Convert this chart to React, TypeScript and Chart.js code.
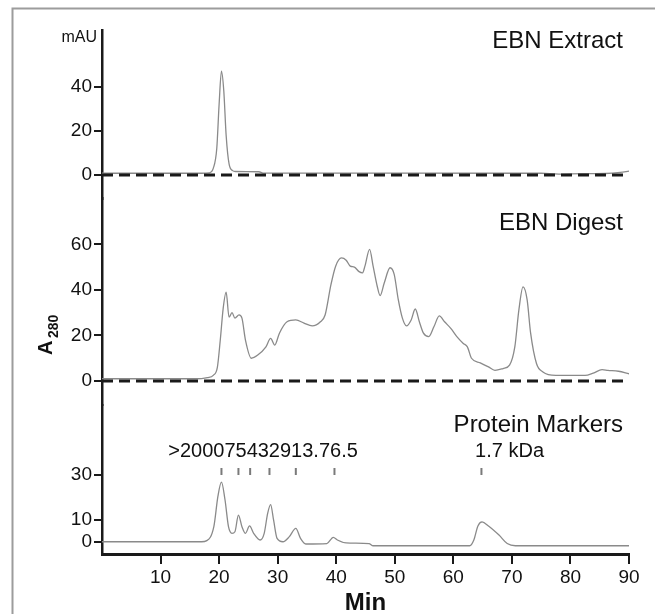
import React, { useEffect, useRef } from "react";
import { Chart, registerables } from "chart.js";

Chart.register(...registerables);

// ---------- data ----------
const extractTime = [0, 10, 17, 18.3, 19.0, 19.6, 20.0, 20.4, 20.8, 21.2, 21.7, 22.3, 22.8, 26.8, 27.5, 50, 75, 78, 82, 86, 88.5, 90];
const extractSignal = [0.8, 0.8, 0.8, 1.0, 3, 12, 32, 47, 38, 18, 5, 2, 1.6, 1.5, 0.9, 0.9, 0.8, 0.4, 0.6, 0.7, 1.2, 1.8];

const digestTime = [0, 5, 10, 15, 17, 18, 19, 19.7, 20.2, 20.7, 21.2, 21.7, 22.2, 22.7, 23.4, 23.9, 24.5, 25.5, 26.6, 28.0, 28.8, 29.5, 30.3, 31.6, 33.1, 34.5, 35.9, 37.3, 38.1, 39.1, 39.9, 40.9, 41.7, 42.4, 43.1, 43.9, 44.5, 44.9, 45.7, 46.3, 47.0, 47.5, 48.2, 49.2, 49.9, 50.6, 51.3, 52.0, 52.8, 53.5, 54.2, 54.9, 55.8, 56.7, 57.6, 58.5, 59.6, 60.6, 61.7, 62.4, 63.1, 64.6, 66.0, 67.1, 68.5, 69.6, 70.5, 71.2, 71.9, 72.6, 73.2, 74.2, 75.3, 77.5, 82.5, 83.9, 85.4, 86.4, 88.2, 90];
const digestSignal = [1.0, 1.0, 1.0, 1.0, 1.1, 1.5, 2.5, 6, 18, 32, 39, 28, 30, 27.6, 29, 27.6, 18, 10, 11.4, 15, 18.7, 15.8, 21, 26, 26.8, 25.4, 24.2, 26, 29, 42.3, 50.4, 54, 53, 50.4, 50, 48, 47.5, 50.4, 57.8, 50.4, 41.6, 37.5, 43, 49.7, 46.8, 35.7, 27.6, 24.2, 26.8, 31.6, 26, 21, 19.5, 23.9, 28.6, 26, 23, 19.5, 16.5, 15, 10, 8, 6.2, 4.7, 5.5, 7, 15, 31.3, 41.3, 35.7, 21, 7.7, 4, 2.5, 2.5, 3.5, 5, 4.7, 4.3, 3.2];

const markerTime = [0, 10, 17, 17.9, 19.1, 19.8, 20.4, 21.0, 21.6, 22.2, 22.7, 23.3, 23.9, 24.5, 25.2, 25.9, 27.0, 27.7, 28.3, 28.8, 29.3, 29.9, 30.9, 32.0, 33.1, 33.9, 34.8, 38.4, 39.5, 40.2, 41.7, 45.6, 46.3, 62.8, 63.5, 64.2, 64.9, 66.0, 67.8, 69.2, 70.6, 90];
const markerSignal = [0, 0, 0, 0.5, 6.8, 20.5, 26.8, 19, 6.8, 3.8, 4.5, 12, 6.8, 3.8, 7.1, 3.8, 0.8, 3.8, 12.9, 16.7, 9.8, 1.5, 0, 2.3, 6, 1.5, -1, -0.8, 2, 0.8, -0.5, -0.8, -1.8, -1.8, 0.8, 7.1, 8.9, 7.1, 3, -0.8, -1.8, -1.8];

const markerTickTimes = [20.4, 23.3, 25.3, 28.6, 33.1, 39.7, 64.8];
const markerTickLevel = 31.6;
const markerLabels = [">200075432913.76.5", "1.7 kDa"];
const markerLabelTimes = [27.5, 69.6];
const markerLabelLevel = 38;

const xTicks = [10, 20, 30, 40, 50, 60, 70, 80, 90];
const topTicks = [0, 20, 40];
const midTicks = [0, 20, 40, 60];
const bottomTicks = [0, 10, 30];
const panelTitles = ["EBN Extract", "EBN Digest", "Protein Markers"];
const baselineTime = [0, 90];
const baselineValue = [0, 0];

const FONT = "'Liberation Sans', Arial, sans-serif";
const CURVE = "#8a8a8a";
const INK = "#1a1a1a";

function pts(xs: number[], ys: number[]) {
  return xs.map((x, i) => ({ x, y: ys[i] }));
}

function yScale(min: number, max: number, weight: number, ticks: number[]) {
  return {
    type: "linear" as const,
    position: "left" as const,
    stack: "panels",
    stackWeight: weight,
    min,
    max,
    afterBuildTicks: (s: any) => {
      s.ticks = ticks.map((v) => ({ value: v }));
    },
    afterFit: (s: any) => {
      s.width = 102;
    },
    grid: { drawOnChartArea: false, drawTicks: true, tickLength: 8, color: INK, lineWidth: 2 },
    border: { display: true, color: INK, width: 2.5 },
    ticks: { font: { family: FONT, size: 19 }, color: "#111", padding: 2 },
  };
}

const overlay = {
  id: "overlay",
  beforeDraw(chart: any) {
    const ctx = chart.ctx;
    ctx.save();
    ctx.strokeStyle = "#9c9c9c";
    ctx.lineWidth = 2;
    ctx.beginPath();
    ctx.moveTo(12.5, 614);
    ctx.lineTo(12.5, 8.5);
    ctx.lineTo(655, 8.5);
    ctx.stroke();
    ctx.restore();
  },
  afterDraw(chart: any) {
    const ctx = chart.ctx;
    const ca = chart.chartArea;
    const s = chart.scales;
    ctx.save();
    ctx.fillStyle = "#111";
    // panel titles
    ctx.font = `24px ${FONT}`;
    ctx.textAlign = "right";
    ctx.textBaseline = "alphabetic";
    ctx.fillText(panelTitles[0], ca.right - 6, s.yTop.top + 18);
    ctx.fillText(panelTitles[1], ca.right - 6, s.yMid.top + 31.5);
    ctx.fillText(panelTitles[2], ca.right - 6, s.yBot.top + 27);
    // marker labels
    ctx.font = `20px ${FONT}`;
    ctx.textAlign = "center";
    markerLabels.forEach((t, i) => {
      ctx.fillText(t, s.x.getPixelForValue(markerLabelTimes[i]), s.yBot.getPixelForValue(markerLabelLevel));
    });
    // mAU
    ctx.font = `16px ${FONT}`;
    ctx.textAlign = "right";
    ctx.fillText("mAU", ca.left - 5, ca.top + 12);
    // Min
    ctx.font = `bold 24px ${FONT}`;
    ctx.textAlign = "center";
    ctx.fillText("Min", (ca.left + ca.right) / 2, 610);
    // A280
    ctx.translate(ca.left - 50, 355);
    ctx.rotate(-Math.PI / 2);
    ctx.textAlign = "left";
    ctx.font = `bold 20px ${FONT}`;
    ctx.fillText("A", 0, 0);
    ctx.font = `bold 14px ${FONT}`;
    ctx.fillText("280", 17, 6);
    ctx.restore();
  },
};

export default function App() {
  const ref = useRef<HTMLCanvasElement | null>(null);
  useEffect(() => {
    if (!ref.current) return;
    const common = { pointRadius: 0, borderWidth: 1.3, borderColor: CURVE, fill: false, cubicInterpolationMode: "monotone" as const, order: 2, xAxisID: "x" };
    const dashed = { pointRadius: 0, borderWidth: 3, borderColor: INK, borderDash: [11, 6], fill: false, order: 0, xAxisID: "x" };
    const chart = new Chart(ref.current, {
      type: "line",
      data: {
        datasets: [
          { ...common, data: pts(extractTime, extractSignal), yAxisID: "yTop" },
          { ...common, data: pts(digestTime, digestSignal), yAxisID: "yMid" },
          { ...common, data: pts(markerTime, markerSignal), yAxisID: "yBot" },
          { ...dashed, data: pts(baselineTime, baselineValue), yAxisID: "yTop" },
          { ...dashed, data: pts(baselineTime, baselineValue), yAxisID: "yMid" },
          {
            data: markerTickTimes.map((t) => ({ x: t, y: markerTickLevel })),
            xAxisID: "x",
            yAxisID: "yBot",
            showLine: false,
            pointStyle: "line",
            rotation: 90,
            pointRadius: 3.5,
            borderWidth: 2,
            borderColor: "#7a7a7a",
            backgroundColor: "#7a7a7a",
            order: 1,
          } as any,
        ],
      },
      options: {
        animation: false,
        responsive: false,
        devicePixelRatio: 1,
        events: [],
        layout: { padding: { top: 30, right: 26, left: 0, bottom: 0 } },
        plugins: { legend: { display: false }, tooltip: { enabled: false } },
        scales: {
          x: {
            type: "linear",
            position: "bottom",
            min: 0,
            max: 90,
            afterBuildTicks: (s: any) => {
              s.ticks = xTicks.map((v) => ({ value: v }));
            },
            afterFit: (s: any) => {
              s.height = 60;
            },
            grid: { drawOnChartArea: false, drawTicks: true, tickLength: 10, color: INK, lineWidth: 2 },
            border: { display: true, color: INK, width: 3 },
            ticks: { font: { family: FONT, size: 19 }, color: "#111", padding: 2, maxRotation: 0, autoSkip: false },
          },
          yBot: yScale(-5.5, 61.4, 148.8, bottomTicks),
          yMid: yScale(-10.6, 80, 206.5, midTicks),
          yTop: yScale(-10.7, 65.6, 168.7, topTicks),
        } as any,
      },
      plugins: [overlay],
    });
    return () => chart.destroy();
  }, []);
  return (
    <div style={{ position: "absolute", left: 0, top: 0, width: 655, height: 614, background: "#fff" }}>
      <canvas ref={ref} width={655} height={614} style={{ display: "block" }} />
    </div>
  );
}
